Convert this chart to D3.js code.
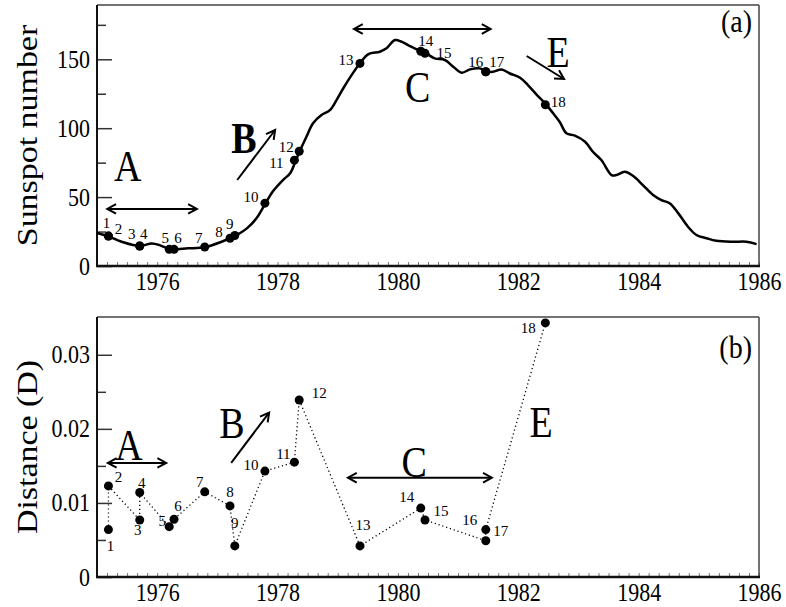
<!DOCTYPE html>
<html>
<head>
<meta charset="utf-8">
<script src="https://cdn.jsdelivr.net/npm/d3@7"></script>
<style>
  body { margin: 0; background: #fff; }
  text { font-family: "Liberation Serif", "Times New Roman", serif; fill: #000; }
</style>
</head>
<body>
<svg id="chart" width="786" height="607"></svg>
<script>
// Smoothed monthly sunspot number, cycle 21
const curveYear = [1975.00, 1975.20, 1975.41, 1975.71, 1975.91, 1976.05, 1976.20, 1976.28, 1976.51, 1976.79,
  1977.07, 1977.21, 1977.29, 1977.49, 1977.65, 1977.80, 1977.93, 1978.09, 1978.21, 1978.31,
  1978.37, 1978.48, 1978.59, 1978.73, 1978.87, 1978.98, 1979.09, 1979.23, 1979.37, 1979.51,
  1979.70, 1979.81, 1979.95, 1980.06, 1980.20, 1980.38, 1980.47, 1980.61, 1980.78, 1980.92,
  1981.06, 1981.20, 1981.36, 1981.46, 1981.58, 1981.72, 1981.86, 1982.03, 1982.16, 1982.30,
  1982.46, 1982.58, 1982.69, 1982.80, 1982.94, 1983.11, 1983.24, 1983.38, 1983.55, 1983.63,
  1983.77, 1983.91, 1984.07, 1984.24, 1984.38, 1984.52, 1984.66, 1984.82, 1984.96, 1985.13,
  1985.29, 1985.57, 1985.79, 1985.96];
const curveSunspot = [23.9, 21.3, 17.6, 14.5, 16.4, 15.0, 12.3, 12.1, 12.8, 13.6,
  17.6, 20.1, 21.7, 27.3, 34.6, 45.5, 54.6, 62.4, 67.3, 77.4,
  83.4, 93.8, 103.6, 109.5, 113.1, 120.4, 128.8, 138.5, 147.1, 153.8,
  155.5, 158.0, 164.0, 162.8, 159.6, 156.0, 154.3, 150.7, 149.5, 144.6,
  140.3, 142.7, 143.4, 141.4, 140.9, 142.6, 139.7, 136.6, 131.3, 124.6,
  117.3, 110.8, 104.5, 96.3, 94.6, 90.2, 82.9, 76.9, 66.0, 66.0,
  68.4, 65.3, 58.7, 51.5, 47.8, 45.4, 38.2, 28.5, 22.5, 20.1,
  18.3, 17.6, 17.6, 15.9];

// Numbered epochs: time, sunspot number, distance D
const eventLabels = ["1","2","3","4","5","6","7","8","9","10","11","12","13","14","15","16","17","18"];
const eventYear = [1975.19, 1975.19, 1975.71, 1975.71, 1976.20, 1976.28, 1976.79, 1977.21, 1977.29, 1977.79,
  1978.28, 1978.36, 1979.37, 1980.38, 1980.45, 1981.46, 1981.46, 1982.45];
const eventSunspot = [21.7, 21.7, 14.5, 14.5, 12.1, 12.1, 13.8, 20.1, 22.1, 45.6,
  76.8, 83.3, 147.0, 155.8, 154.3, 141.0, 141.0, 117.0];
const eventDistance = [0.0064, 0.0123, 0.0077, 0.0114, 0.0068, 0.0078, 0.0115, 0.0096, 0.0042, 0.0143,
  0.0155, 0.0239, 0.0042, 0.0093, 0.0077, 0.0049, 0.0064, 0.0343];

// Axis ticks
const xTickYears = [1976, 1978, 1980, 1982, 1984, 1986];
const topMajorTicks = [0, 50, 100, 150];
const topMinorTicks = [25, 75, 125, 175];
const botMajorTicks = [0, 0.01, 0.02, 0.03];
const botMinorTicks = [0.005, 0.015, 0.025];

// Label offsets (pixels) for the numbered epochs
const topLabelDx = [-2, 10, -8, 4, -4, 4, -6, -11, -5, -14, -18, -13, -14, 5, 19, -10, 11, 13];
const topLabelDy = [-13, -7, -12, -12, -11, -11, -9, -6, -12, -6, 3, -4, -3, -10, 0, -10, -10, -3];
const botLabelDx = [2, 10, -2, 2, -7, 4, -5, 0, 0, -14, -11, 20, 3, -14, 16, -16, 15, -17];
const botLabelDy = [16, -9, 10, -10, -6, -13, -10, -14, -23, -6, -8, -7, -21, -11, -9, -21, 1, 5];

const svg = d3.select("#chart");
const SY = 1.15; // vertical stretch applied to text glyphs

const x = d3.scaleLinear().domain([1975, 1986]).range([97, 759]);
const yTop = d3.scaleLinear().domain([0, 189.4]).range([266, 5]);
const yBot = d3.scaleLinear().domain([0, 0.0351]).range([577, 317]);

function txt(g, px, py, str, size, anchor, weight, sy) {
  return g.append("text")
    .attr("transform", `translate(${px},${py}) scale(1,${sy === undefined ? SY : sy})`)
    .attr("font-size", size)
    .attr("text-anchor", anchor || "middle")
    .attr("font-weight", weight || "normal")
    .text(str);
}

function arrow(g, x1, y1, x2, y2, both) {
  g.append("line").attr("x1", x1).attr("y1", y1).attr("x2", x2).attr("y2", y2)
    .attr("stroke", "#000").attr("stroke-width", 2);
  const head = (hx, hy, ang) => {
    const L = 10, a = 0.5;
    const p = `M${hx - L * Math.cos(ang - a)},${hy - L * Math.sin(ang - a)} L${hx},${hy} L${hx - L * Math.cos(ang + a)},${hy - L * Math.sin(ang + a)}`;
    g.append("path").attr("d", p).attr("fill", "none").attr("stroke", "#000").attr("stroke-width", 2);
  };
  const ang = Math.atan2(y2 - y1, x2 - x1);
  head(x2, y2, ang);
  if (both) head(x1, y1, ang + Math.PI);
}

function panel(yScale, major, minor, fmt, title) {
  const g = svg.append("g");
  const [y0, y1] = yScale.range();
  const [xa, xb] = x.range();
  // minor x ticks every two months
  const minorX = d3.range(1975, 1986.001, 1 / 6);
  g.append("g").attr("transform", `translate(0,${y0})`)
    .call(d3.axisBottom(x).tickValues(minorX).tickSize(-4).tickFormat(""))
    .call(a => a.select(".domain").remove())
    .call(a => a.selectAll("line").attr("stroke", "#777").attr("stroke-width", 1));
  // x labels
  const xa2 = g.append("g").attr("transform", `translate(0,${y0})`)
    .call(d3.axisBottom(x).tickValues(xTickYears).tickSize(0).tickFormat(d3.format("d")));
  xa2.select(".domain").remove();
  xa2.selectAll("text").remove();
  xa2.selectAll(".tick").each(function (d) {
    txt(d3.select(this), 0, 24, String(d), 22, "middle");
  });
  // y ticks
  g.append("g").attr("transform", `translate(${xa},0)`)
    .call(d3.axisLeft(yScale).tickValues(minor).tickSize(-9).tickFormat(""))
    .call(a => a.select(".domain").remove())
    .call(a => a.selectAll("line").attr("stroke", "#333").attr("stroke-width", 1.5));
  const ya = g.append("g").attr("transform", `translate(${xa},0)`)
    .call(d3.axisLeft(yScale).tickValues(major).tickSize(-15).tickFormat(fmt));
  ya.select(".domain").remove();
  ya.selectAll("line").attr("stroke", "#333").attr("stroke-width", 1.5);
  ya.selectAll("text").remove();
  ya.selectAll(".tick").each(function (d) {
    txt(d3.select(this), -7, 8, fmt(d), 22, "end");
  });
  // frame
  g.append("line").attr("x1", xa).attr("x2", xb).attr("y1", y1).attr("y2", y1).attr("stroke", "#444").attr("stroke-width", 1.5);
  g.append("line").attr("x1", xb).attr("x2", xb).attr("y1", y1).attr("y2", y0).attr("stroke", "#444").attr("stroke-width", 1.5);
  g.append("line").attr("x1", xa).attr("x2", xa).attr("y1", y1).attr("y2", y0 + 1).attr("stroke", "#111").attr("stroke-width", 2);
  g.append("line").attr("x1", xa - 1).attr("x2", xb + 1).attr("y1", y0).attr("y2", y0).attr("stroke", "#111").attr("stroke-width", 2.5);
  // axis title
  const cy = (y0 + y1) / 2;
  g.append("text")
    .attr("transform", `translate(37,${cy}) rotate(-90) scale(${1.17},1)`)
    .attr("font-size", 29).attr("text-anchor", "middle").text(title);
  return g;
}

// ---- Panel (a): sunspot number ----
const gA = panel(yTop, topMajorTicks, topMinorTicks, d3.format("d"), "Sunspot number");
const curvePts = curveYear.map((t, i) => [t, curveSunspot[i]]);
gA.append("path").datum(curvePts)
  .attr("fill", "none").attr("stroke", "#000").attr("stroke-width", 2.5)
  .attr("d", d3.line().x(d => x(d[0])).y(d => yTop(d[1])).curve(d3.curveCatmullRom));
gA.selectAll("circle.ev").data(eventYear).join("circle")
  .attr("cx", d => x(d)).attr("cy", (d, i) => yTop(eventSunspot[i])).attr("r", 4.5).attr("fill", "#000");
eventLabels.forEach((s, i) => {
  txt(gA, x(eventYear[i]) + topLabelDx[i], yTop(eventSunspot[i]) + topLabelDy[i] + 5, s, 15, "middle", "normal", 1);
});
arrow(gA, x(1975.17), yTop(41.4), x(1976.66), yTop(41.4), true);
txt(gA, x(1975.51), yTop(61.7), "A", 38);
arrow(gA, x(1977.33), yTop(62.4), x(1977.96), yTop(98.7), false);
txt(gA, x(1977.44), yTop(82), "B", 38, "middle", "bold");
arrow(gA, x(1979.27), yTop(172), x(1981.54), yTop(172), true);
txt(gA, x(1980.33), yTop(119), "C", 38);
arrow(gA, x(1982.14), yTop(152.4), x(1982.76), yTop(135.7), false);
txt(gA, x(1982.66), yTop(144.4), "E", 38);
txt(gA, 752, 32, "(a)", 28, "end");

// ---- Panel (b): distance D ----
const gB = panel(yBot, botMajorTicks, botMinorTicks, d => d === 0 ? "0" : d3.format(".2f")(d), "Distance (D)");
const distPts = eventYear.map((t, i) => [t, eventDistance[i]]);
gB.append("path").datum(distPts)
  .attr("fill", "none").attr("stroke", "#000").attr("stroke-width", 1.3).attr("stroke-dasharray", "1.2,2.8")
  .attr("d", d3.line().x(d => x(d[0])).y(d => yBot(d[1])));
gB.selectAll("circle.ev").data(eventYear).join("circle")
  .attr("cx", d => x(d)).attr("cy", (d, i) => yBot(eventDistance[i])).attr("r", 4.5).attr("fill", "#000");
eventLabels.forEach((s, i) => {
  txt(gB, x(eventYear[i]) + botLabelDx[i], yBot(eventDistance[i]) + botLabelDy[i] + 5, s, 15, "middle", "normal", 1);
});
arrow(gB, x(1975.18), yBot(0.0154), x(1976.15), yBot(0.0154), true);
txt(gB, x(1975.53), yBot(0.0158), "A", 38);
arrow(gB, x(1977.23), yBot(0.0154), x(1977.86), yBot(0.0222), false);
txt(gB, x(1977.24), yBot(0.0188), "B", 38);
arrow(gB, x(1979.17), yBot(0.0134), x(1981.56), yBot(0.0134), true);
txt(gB, x(1980.27), yBot(0.0135), "C", 38);
txt(gB, x(1982.38), yBot(0.0189), "E", 38);
txt(gB, 752, 358, "(b)", 28, "end");
</script>
</body>
</html>
